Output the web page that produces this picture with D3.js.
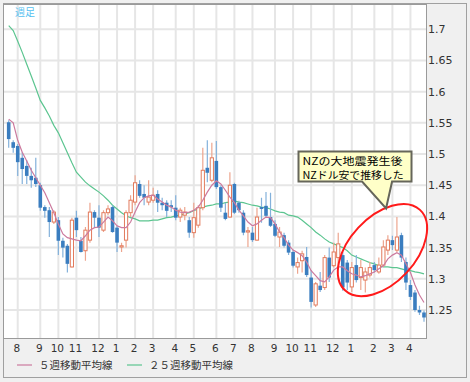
<!DOCTYPE html>
<html><head><meta charset="utf-8">
<script src="https://cdn.jsdelivr.net/npm/d3@7"></script>
<style>
html,body{margin:0;padding:0;background:#f0f0f0;}
svg{display:block;}
</style></head><body>
<svg id="c" width="470" height="382"></svg>
<script>
// ---- data ----
const monthLabels = ["8","9","10","11","12","1","2","3","4","5","6","7","8","9","10","11","12","1","2","3","4"];
const monthStartWeek = [2,7,11,15,20,24,28,32,37,41,46,50,54,59,63,67,72,76,81,85,89];
const yTicks = [1.25,1.3,1.35,1.4,1.45,1.5,1.55,1.6,1.65,1.7];
const periodLabel = "週足";
const legendLabels = ["５週移動平均線","２５週移動平均線"];
const noteLines = ["NZの大地震発生後","NZドル安で推移した"];

const open = [1.551,1.519,1.513,1.494,1.481,1.465,1.462,1.450,1.415,1.410,
 1.391,1.394,1.361,1.353,1.319,1.398,1.361,1.345,1.362,1.407,
 1.398,1.378,1.406,1.415,1.382,1.351,1.362,1.406,1.423,1.452,
 1.436,1.423,1.426,1.436,1.422,1.422,1.418,1.414,1.399,1.402,
 1.394,1.374,1.386,1.414,1.478,1.458,1.489,1.447,1.406,1.399,
 1.452,1.422,1.406,1.375,1.374,1.362,1.415,1.417,1.399,1.388,
 1.367,1.370,1.358,1.343,1.319,1.329,1.335,1.302,1.258,1.289,
 1.286,1.334,1.321,1.334,1.338,1.326,1.287,1.322,1.302,1.298,
 1.306,1.322,1.311,1.322,1.346,1.362,1.346,1.370,1.327,1.290,
 1.278,1.250,1.246];
const high = [1.554,1.522,1.516,1.503,1.490,1.478,1.494,1.454,1.418,1.415,
 1.410,1.399,1.366,1.356,1.398,1.409,1.367,1.383,1.422,1.410,
 1.418,1.410,1.418,1.418,1.385,1.358,1.410,1.434,1.466,1.458,
 1.450,1.458,1.446,1.442,1.430,1.426,1.426,1.434,1.414,1.415,
 1.399,1.422,1.418,1.510,1.522,1.518,1.521,1.450,1.422,1.471,
 1.454,1.425,1.410,1.383,1.383,1.414,1.430,1.439,1.438,1.394,
 1.383,1.374,1.362,1.346,1.334,1.345,1.351,1.314,1.295,1.311,
 1.338,1.350,1.358,1.374,1.343,1.330,1.327,1.338,1.330,1.318,
 1.327,1.327,1.334,1.362,1.370,1.369,1.399,1.374,1.334,1.298,
 1.282,1.257,1.249];
const low = [1.510,1.502,1.465,1.452,1.452,1.446,1.447,1.409,1.398,1.367,
 1.388,1.338,1.334,1.310,1.318,1.367,1.342,1.329,1.358,1.383,
 1.367,1.375,1.402,1.374,1.343,1.343,1.350,1.399,1.418,1.430,
 1.418,1.418,1.422,1.407,1.410,1.399,1.407,1.394,1.391,1.394,
 1.366,1.366,1.382,1.410,1.455,1.455,1.444,1.407,1.394,1.398,
 1.404,1.406,1.370,1.351,1.359,1.361,1.390,1.398,1.383,1.367,
 1.351,1.350,1.338,1.318,1.308,1.310,1.303,1.254,1.255,1.279,
 1.282,1.295,1.318,1.318,1.281,1.282,1.279,1.294,1.282,1.278,
 1.302,1.310,1.308,1.319,1.338,1.346,1.343,1.327,1.282,1.266,
 1.247,1.242,1.231];
const close = [1.524,1.510,1.487,1.476,1.465,1.458,1.452,1.414,1.409,1.391,
 1.407,1.361,1.350,1.324,1.394,1.378,1.343,1.378,1.407,1.398,
 1.382,1.406,1.412,1.375,1.358,1.353,1.406,1.426,1.454,1.433,
 1.430,1.431,1.434,1.422,1.418,1.409,1.415,1.398,1.410,1.407,
 1.374,1.398,1.414,1.474,1.470,1.494,1.447,1.414,1.396,1.450,
 1.406,1.410,1.374,1.377,1.362,1.399,1.412,1.401,1.385,1.369,
 1.375,1.353,1.342,1.321,1.326,1.340,1.306,1.263,1.292,1.282,
 1.334,1.302,1.343,1.356,1.286,1.294,1.318,1.298,1.318,1.311,
 1.318,1.314,1.322,1.351,1.362,1.354,1.367,1.334,1.294,1.271,
 1.250,1.246,1.238];
const ma5 = [1.556,1.550,1.522,1.503,1.489,1.474,1.462,1.450,1.438,1.422,
 1.406,1.388,1.372,1.366,1.364,1.362,1.361,1.369,1.378,1.382,
 1.383,1.391,1.399,1.393,1.385,1.382,1.382,1.391,1.407,1.422,
 1.430,1.433,1.434,1.428,1.423,1.418,1.415,1.410,1.407,1.406,
 1.407,1.410,1.415,1.426,1.439,1.450,1.457,1.452,1.442,1.431,
 1.422,1.410,1.401,1.391,1.385,1.388,1.394,1.399,1.398,1.388,
 1.375,1.366,1.354,1.346,1.342,1.337,1.327,1.313,1.305,1.297,
 1.295,1.303,1.314,1.319,1.319,1.313,1.308,1.306,1.303,1.305,
 1.308,1.311,1.316,1.321,1.332,1.338,1.342,1.338,1.324,1.310,
 1.290,1.274,1.262];
const ma25 = [1.706,1.698,1.681,1.663,1.644,1.625,1.606,1.586,1.574,1.561,
 1.546,1.534,1.518,1.502,1.486,1.471,1.463,1.455,1.449,1.444,
 1.439,1.433,1.426,1.418,1.412,1.406,1.401,1.398,1.396,1.393,
 1.393,1.393,1.394,1.394,1.396,1.398,1.399,1.401,1.402,1.404,
 1.406,1.409,1.412,1.415,1.417,1.418,1.420,1.420,1.422,1.423,
 1.425,1.423,1.422,1.420,1.418,1.417,1.415,1.414,1.412,1.409,
 1.407,1.406,1.402,1.401,1.399,1.394,1.388,1.382,1.375,1.370,
 1.364,1.359,1.356,1.353,1.350,1.345,1.338,1.335,1.332,1.329,
 1.326,1.324,1.321,1.319,1.319,1.318,1.318,1.316,1.314,1.313,
 1.311,1.310,1.308];

// annotation anchors (week index, price)
const ellipseCenter = [82.8, 1.346];
const noteBoxAnchor = [64.2, 1.504];
const noteTip = [83.6, 1.413];

// ---- layout ----
const svg = d3.select("#c");
const W = 470, H = 382;
const P = {l: 3.5, t: 4.5, r: 426.5, b: 338.5};

const x = d3.scaleLinear().domain([0, open.length - 1]).range([8.7, 424]);
const y = d3.scaleLinear().domain([1.25, 1.7]).range([310, 29.3]);

// background & frame
svg.append("rect").attr("x",0).attr("y",0).attr("width",W).attr("height",H).attr("fill","#f0f0f0");
svg.append("rect").attr("x",3.5).attr("y",3.5).attr("width",463).attr("height",374)
  .attr("fill","#f0f0f0").attr("stroke","#a0a0a0");
svg.append("rect").attr("x",P.l).attr("y",P.t).attr("width",P.r-P.l).attr("height",P.b-P.t)
  .attr("fill","#ffffff");

svg.append("defs").append("clipPath").attr("id","clip").append("rect")
  .attr("x",P.l).attr("y",P.t).attr("width",P.r-P.l).attr("height",P.b-P.t);

const grid = svg.append("g");
grid.selectAll("line.h").data(yTicks).join("line")
  .attr("x1",P.l).attr("x2",P.r).attr("y1",d=>y(d)).attr("y2",d=>y(d))
  .attr("stroke","#e6e6e6").attr("stroke-width",2);
grid.selectAll("line.v").data(monthStartWeek).join("line")
  .attr("x1",d=>x(d)).attr("x2",d=>x(d)).attr("y1",P.t).attr("y2",P.b)
  .attr("stroke","#e6e6e6").attr("stroke-width",2);

svg.append("rect").attr("x",P.l).attr("y",P.t).attr("width",P.r-P.l).attr("height",P.b-P.t)
  .attr("fill","none").attr("stroke","#9a9a9a");

const plot = svg.append("g").attr("clip-path","url(#clip)");

// 25-week MA under candles
const line = (arr) => d3.line().x((d,i)=>x(i)).y(d=>y(d))(arr);
plot.append("path").attr("d",line(ma25)).attr("fill","none")
  .attr("stroke","#5cc590").attr("stroke-width",1.2);

// candles
const idx = d3.range(open.length);
const cg = plot.append("g");
cg.selectAll("line.w").data(idx).join("line")
  .attr("x1",i=>x(i)).attr("x2",i=>x(i))
  .attr("y1",i=>y(high[i])).attr("y2",i=>y(low[i]))
  .attr("stroke",i=>close[i]>=open[i] ? "#eda58e" : "#83b1db").attr("stroke-width",1.2);
cg.selectAll("rect.b").data(idx).join("rect")
  .attr("x",i=> close[i]>=open[i] ? x(i)-1.6 : x(i)-1.8)
  .attr("width",i=> close[i]>=open[i] ? 3.2 : 3.6)
  .attr("y",i=>y(Math.max(open[i],close[i])))
  .attr("height",i=>Math.max(1, Math.abs(y(open[i])-y(close[i]))))
  .attr("fill",i=>close[i]>=open[i] ? "#ffffff" : "#3a7dbf")
  .attr("stroke",i=>close[i]>=open[i] ? "#e27a5c" : "none")
  .attr("stroke-width",1);

// 5-week MA
plot.append("path").attr("d",line(ma5)).attr("fill","none")
  .attr("stroke","#cc7a9e").attr("stroke-width",1.2);

// period label
svg.append("text").attr("x",15).attr("y",16).text(periodLabel)
  .attr("font-family","Noto Sans CJK JP").attr("font-size",10).attr("fill","#55bff0");

// right axis labels
svg.append("g").selectAll("text").data(yTicks).join("text")
  .attr("x",428).attr("y",d=>y(d)+4).text(d=>String(d))
  .attr("font-family","DejaVu Sans").attr("font-size",11).attr("fill","#333");

// bottom month labels
svg.append("g").selectAll("text").data(monthStartWeek).join("text")
  .attr("x",d=>x(d)-1).attr("y",352).attr("text-anchor","middle")
  .text((d,i)=>monthLabels[i])
  .attr("font-family","DejaVu Sans").attr("font-size",10.5).attr("fill","#333");

// legend
const lg = svg.append("g");
const legendColors = ["#cc7a9e","#5cc590"];
const legendX = [17,127];
legendLabels.forEach((t,i)=>{
  lg.append("line").attr("x1",legendX[i]).attr("x2",legendX[i]+15).attr("y1",365).attr("y2",365)
    .attr("stroke",legendColors[i]).attr("stroke-width",1.2);
  lg.append("text").attr("x",legendX[i]+22).attr("y",369).text(t)
    .attr("font-family","Noto Sans CJK JP").attr("font-size",10.5).attr("fill","#333");
});

// ellipse annotation
svg.append("ellipse")
  .attr("transform",`translate(${x(ellipseCenter[0])},${y(ellipseCenter[1])}) rotate(-47)`)
  .attr("rx",55).attr("ry",33).attr("fill","none").attr("stroke","#ff1a1a").attr("stroke-width",2);

// callout box
const bx = x(noteBoxAnchor[0]), by = y(noteBoxAnchor[1]);
const bw = 113, bh = 30;
const tx = x(noteTip[0]), ty = y(noteTip[1]);
const path = `M${bx},${by} H${bx+bw} V${by+bh} H${tx+6} L${tx},${ty} L${tx-24},${by+bh} H${bx} Z`;
svg.append("path").attr("d",path).attr("fill","#ffffc8").attr("stroke","#66665a").attr("stroke-width",2);
const note = svg.append("text")
  .attr("font-family","Noto Sans CJK JP").attr("font-size",10).attr("fill","#000");
noteLines.forEach((t,i)=>{
  note.append("tspan").attr("x",bx+4).attr("y",by+13+i*14.5).text(t)
    .attr("textLength",[100,101][i]).attr("lengthAdjust","spacingAndGlyphs");
});
</script>
</body></html>
